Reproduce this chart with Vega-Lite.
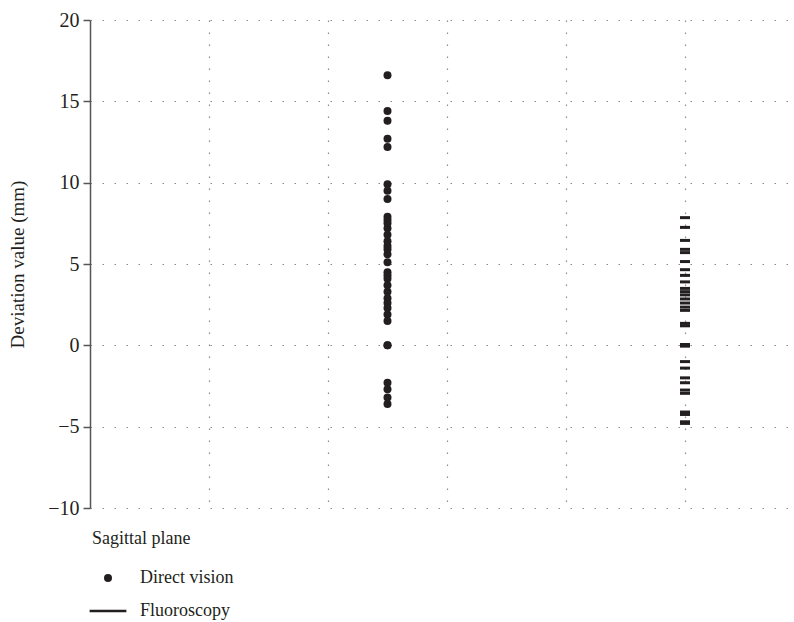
{
  "$schema": "https://vega.github.io/schema/vega-lite/v6.json",
  "width": 704,
  "height": 488,
  "autosize": "none",
  "padding": {"left": 90, "top": 20, "right": 0, "bottom": 114},
  "background": "white",
  "config": {
    "font": "Liberation Serif",
    "view": {"stroke": null}
  },
  "datasets": {
    "pts": [
      {"method": "Direct vision", "pos": 2.5, "value": 16.6},
      {"method": "Direct vision", "pos": 2.5, "value": 14.4},
      {"method": "Direct vision", "pos": 2.5, "value": 13.8},
      {"method": "Direct vision", "pos": 2.5, "value": 12.7},
      {"method": "Direct vision", "pos": 2.5, "value": 12.2},
      {"method": "Direct vision", "pos": 2.5, "value": 9.9},
      {"method": "Direct vision", "pos": 2.5, "value": 9.5},
      {"method": "Direct vision", "pos": 2.5, "value": 9.0},
      {"method": "Direct vision", "pos": 2.5, "value": 7.9},
      {"method": "Direct vision", "pos": 2.5, "value": 7.7},
      {"method": "Direct vision", "pos": 2.5, "value": 7.5},
      {"method": "Direct vision", "pos": 2.5, "value": 7.2},
      {"method": "Direct vision", "pos": 2.5, "value": 6.8},
      {"method": "Direct vision", "pos": 2.5, "value": 6.4},
      {"method": "Direct vision", "pos": 2.5, "value": 6.1},
      {"method": "Direct vision", "pos": 2.5, "value": 5.9},
      {"method": "Direct vision", "pos": 2.5, "value": 5.6},
      {"method": "Direct vision", "pos": 2.5, "value": 5.1},
      {"method": "Direct vision", "pos": 2.5, "value": 4.5},
      {"method": "Direct vision", "pos": 2.5, "value": 4.3},
      {"method": "Direct vision", "pos": 2.5, "value": 4.1},
      {"method": "Direct vision", "pos": 2.5, "value": 3.7},
      {"method": "Direct vision", "pos": 2.5, "value": 3.3},
      {"method": "Direct vision", "pos": 2.5, "value": 2.9},
      {"method": "Direct vision", "pos": 2.5, "value": 2.6},
      {"method": "Direct vision", "pos": 2.5, "value": 2.3},
      {"method": "Direct vision", "pos": 2.5, "value": 1.9},
      {"method": "Direct vision", "pos": 2.5, "value": 1.5},
      {"method": "Direct vision", "pos": 2.5, "value": 0.0},
      {"method": "Direct vision", "pos": 2.5, "value": 0.0},
      {"method": "Direct vision", "pos": 2.5, "value": -2.3},
      {"method": "Direct vision", "pos": 2.5, "value": -2.7},
      {"method": "Direct vision", "pos": 2.5, "value": -3.2},
      {"method": "Direct vision", "pos": 2.5, "value": -3.6},
      {"method": "Fluoroscopy", "pos": 5, "value": 7.85},
      {"method": "Fluoroscopy", "pos": 5, "value": 7.25},
      {"method": "Fluoroscopy", "pos": 5, "value": 6.45},
      {"method": "Fluoroscopy", "pos": 5, "value": 5.9},
      {"method": "Fluoroscopy", "pos": 5, "value": 5.7},
      {"method": "Fluoroscopy", "pos": 5, "value": 5.15},
      {"method": "Fluoroscopy", "pos": 5, "value": 4.65},
      {"method": "Fluoroscopy", "pos": 5, "value": 4.3},
      {"method": "Fluoroscopy", "pos": 5, "value": 3.9},
      {"method": "Fluoroscopy", "pos": 5, "value": 3.5},
      {"method": "Fluoroscopy", "pos": 5, "value": 3.3},
      {"method": "Fluoroscopy", "pos": 5, "value": 3.1},
      {"method": "Fluoroscopy", "pos": 5, "value": 2.85},
      {"method": "Fluoroscopy", "pos": 5, "value": 2.6},
      {"method": "Fluoroscopy", "pos": 5, "value": 2.35},
      {"method": "Fluoroscopy", "pos": 5, "value": 2.15},
      {"method": "Fluoroscopy", "pos": 5, "value": 1.35},
      {"method": "Fluoroscopy", "pos": 5, "value": 1.2},
      {"method": "Fluoroscopy", "pos": 5, "value": 0.05},
      {"method": "Fluoroscopy", "pos": 5, "value": -0.05},
      {"method": "Fluoroscopy", "pos": 5, "value": -1.0},
      {"method": "Fluoroscopy", "pos": 5, "value": -1.4},
      {"method": "Fluoroscopy", "pos": 5, "value": -2.0},
      {"method": "Fluoroscopy", "pos": 5, "value": -2.3},
      {"method": "Fluoroscopy", "pos": 5, "value": -2.75},
      {"method": "Fluoroscopy", "pos": 5, "value": -2.95},
      {"method": "Fluoroscopy", "pos": 5, "value": -4.1},
      {"method": "Fluoroscopy", "pos": 5, "value": -4.25},
      {"method": "Fluoroscopy", "pos": 5, "value": -4.7},
      {"method": "Fluoroscopy", "pos": 5, "value": -4.8}
    ]
  },
  "data": {"name": "pts"},
  "encoding": {
    "x": {
      "field": "pos",
      "type": "quantitative",
      "scale": {"domain": [0, 5.916], "nice": false, "zero": false},
      "axis": {
        "title": null,
        "labels": false,
        "ticks": false,
        "domain": false,
        "grid": true,
        "values": [1, 2, 3, 4, 5],
        "gridColor": "#8a8a8a",
        "gridDash": [1.5, 10.5],
        "gridWidth": 1.2,
        "gridOpacity": 1,
        "orient": "bottom"
      }
    },
    "y": {
      "field": "value",
      "type": "quantitative",
      "scale": {"domain": [-10, 20], "nice": false, "zero": false},
      "axis": {
        "title": "Deviation value (mm)",
        "titleFont": "Liberation Serif",
        "titleFontSize": 19,
        "titleFontWeight": "normal",
        "titleColor": "#231f20",
        "titlePadding": 20,
        "values": [-10, -5, 0, 5, 10, 15, 20],
        "labelFont": "Liberation Serif",
        "labelFontSize": 20,
        "labelColor": "#231f20",
        "labelPadding": 4,
        "labelExpr": "datum.value < 0 ? '\u2212' + abs(datum.value) : datum.label",
        "domainColor": "#555555",
        "domainWidth": 1.5,
        "tickColor": "#555555",
        "tickWidth": 1.5,
        "tickSize": 7,
        "grid": true,
        "gridColor": "#8a8a8a",
        "gridDash": [1.5, 10.5],
        "gridWidth": 1.2,
        "gridOpacity": 1
      }
    }
  },
  "layer": [
    {
      "transform": [{"filter": "datum.method === 'Direct vision'"}],
      "mark": {"type": "point", "filled": true, "opacity": 1, "size": 64, "color": "#231f20"},
      "encoding": {
        "shape": {
          "field": "method",
          "type": "nominal",
          "scale": {
            "domain": ["Direct vision", "Fluoroscopy"],
            "range": ["circle", "M-4.6,-0.3H4.6V0.3H-4.6Z"]
          },
          "legend": {
            "title": "Sagittal plane",
            "orient": "none",
            "legendX": 2,
            "legendY": 510,
            "direction": "vertical",
            "titleFont": "Liberation Serif",
            "titleFontSize": 18,
            "titleFontWeight": "normal",
            "titleColor": "#231f20",
            "titlePadding": 21,
            "labelFont": "Liberation Serif",
            "labelFontSize": 18,
            "labelColor": "#231f20",
            "symbolOffset": 7,
            "labelOffset": 23,
            "rowPadding": 15,
            "symbolSize": 64,
            "symbolFillColor": "#231f20",
            "symbolStrokeColor": "#231f20",
            "symbolStrokeWidth": 0,
            "symbolOpacity": 1
          }
        }
      }
    },
    {
      "transform": [{"filter": "datum.method === 'Fluoroscopy'"}],
      "mark": {"type": "tick", "orient": "horizontal", "size": 10, "thickness": 3, "color": "#231f20", "opacity": 1}
    }
  ]
}
